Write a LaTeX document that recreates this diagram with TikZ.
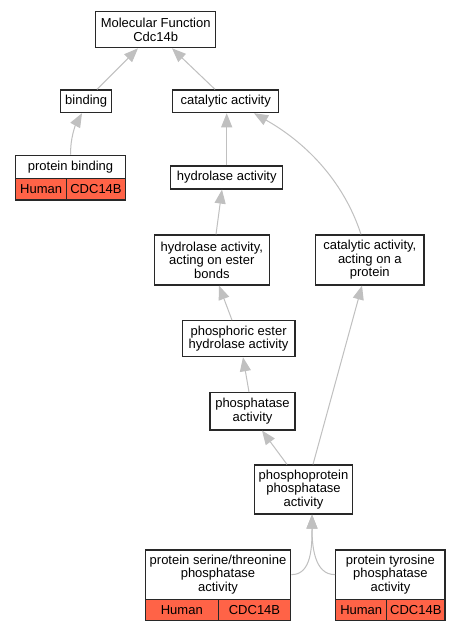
\documentclass[tikz,border=0pt]{standalone}
\usepackage{fontspec}
\setmainfont{Liberation Sans}
\usetikzlibrary{arrows.meta}
\definecolor{edgegray}{RGB}{192,192,192}
\definecolor{boxborder}{RGB}{40,40,40}
\definecolor{tomatocell}{RGB}{255,99,71}
\begin{document}
\begin{tikzpicture}[x=1pt,y=-1pt,
  box/.style={draw=boxborder,line width=1.2pt,fill=white,inner sep=0pt,align=center,
    font=\fontsize{13}{13.6}\selectfont},
  cell/.style={draw=boxborder,line width=1.2pt,fill=tomatocell,inner sep=0pt,align=center,
    font=\fontsize{13}{13.6}\selectfont},
  edge/.style={draw=edgegray,line width=1pt,-{Triangle[length=14pt,width=11pt,fill=edgegray]}}
]
\useasboundingbox (0,0) rectangle (461,632);
\fill[white] (0,0) rectangle (461,632);

% nodes
\node[box,minimum width=120pt,minimum height=36pt] (mf) at (155.7,29.7) {Molecular Function\\Cdc14b};
\node[box,minimum width=51pt,minimum height=22.7pt] (bind) at (86.2,101.3) {binding};
\node[box,minimum width=106pt,minimum height=22.7pt] (cat) at (225.7,101.3) {catalytic activity};
\node[box,minimum width=109.6pt,minimum height=23pt] (pb) at (70.5,166.8) {protein binding};
\node[cell,minimum width=51pt,minimum height=21.7pt] (pbh) at (41.2,189.1) {Human};
\node[cell,minimum width=58.6pt,minimum height=21.7pt] (pbc) at (96,189.1) {CDC14B};
\node[box,minimum width=112pt,minimum height=23pt] (hyd) at (226.7,177.5) {hydrolase activity};
\node[box,minimum width=115pt,minimum height=50pt] (hes) at (211.8,260) {hydrolase activity,\\acting on ester\\bonds};
\node[box,minimum width=108.3pt,minimum height=50pt] (cap) at (369.8,260) {catalytic activity,\\acting on a\\protein};
\node[box,minimum width=112.7pt,minimum height=36pt] (peh) at (238.6,338.7) {phosphoric ester\\hydrolase activity};
\node[box,minimum width=85pt,minimum height=37.3pt] (pa) at (252.5,411.3) {phosphatase\\activity};
\node[box,minimum width=98.4pt,minimum height=49pt] (ppa) at (303.5,489.5) {phosphoprotein\\phosphatase\\activity};
\node[box,minimum width=145.7pt,minimum height=49.3pt] (st) at (218,574.6) {protein serine/threonine\\phosphatase\\activity};
\node[cell,minimum width=73.3pt,minimum height=21.4pt] (sth) at (181.8,610) {Human};
\node[cell,minimum width=72.4pt,minimum height=21.4pt] (stc) at (254.5,610) {CDC14B};
\node[box,minimum width=109.3pt,minimum height=49.3pt] (pt) at (390.4,574.6) {protein tyrosine\\phosphatase\\activity};
\node[cell,minimum width=51pt,minimum height=21.4pt] (pth) at (361.2,610) {Human};
\node[cell,minimum width=58.3pt,minimum height=21.4pt] (ptc) at (415.8,610) {CDC14B};

% edges
\draw[edge] (bind.north -| 97,0) -- (mf.south -| 138,0);
\draw[edge] (cat.north -| 215,0) -- (mf.south -| 172,0);
\draw[edge] (pb.north -| 70.7,0) .. controls (70,138) and (76,124) .. (bind.south -| 82,0);
\draw[edge] (hyd.north) -- (cat.south -| 226.7,0);
\draw[edge] (cap.north -| 361,0) .. controls (345,185) and (310,145) .. (cat.south -| 254,0);
\draw[edge] (hes.north -| 216,0) -- (hyd.south -| 222,0);
\draw[edge] (peh.north -| 232,0) -- (hes.south -| 219,0);
\draw[edge] (pa.north -| 249,0) -- (peh.south -| 243,0);
\draw[edge] (ppa.north -| 287,0) -- (pa.south -| 262,0);
\draw[edge] (ppa.north -| 313,0) -- (cap.south -| 362,0);
\coordinate (ppatip) at (ppa.south -| 312,0);
\draw[edge] (st.east) .. controls (312,575) and (312,545) .. (ppatip);
\draw[edge] (pt.west) .. controls (314,575) and (312,545) .. (ppatip);
\end{tikzpicture}
\end{document}
